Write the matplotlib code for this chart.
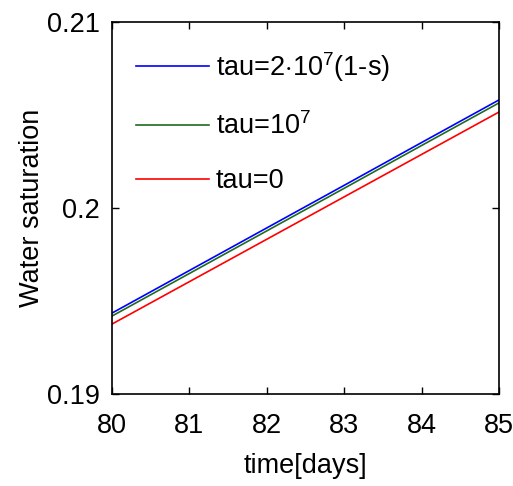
import matplotlib as mpl
import numpy as np
from matplotlib import pyplot as plt

mpl.rcParams["font.family"] = ["Liberation Sans", "DejaVu Sans"]
mpl.rcParams["mathtext.fontset"] = "custom"
mpl.rcParams["mathtext.rm"] = "Liberation Sans"
mpl.rcParams["mathtext.it"] = "Liberation Sans"

days = [80, 81, 82, 83, 84, 85]
sat_tau_var = [0.19435, 0.19664, 0.19893, 0.20122, 0.20352, 0.20581]
sat_tau_1e7 = [0.19419, 0.19648, 0.19877, 0.20106, 0.20336, 0.20565]
sat_tau_0 = [0.19376, 0.19604, 0.19832, 0.20060, 0.20288, 0.20516]

labels = [r"tau=2$\cdot$10$^7$(1-s)", r"tau=10$^7$", "tau=0"]
colors = ["#0000ff", "#1f6b1f", "#ff0000"]

fs = 19.5

fig = plt.figure(figsize=(5.13, 4.86), dpi=100)
ax = fig.add_axes([112 / 513, 1 - 394 / 486, 387 / 513, 372 / 486])

for vals, lab, c in zip([sat_tau_var, sat_tau_1e7, sat_tau_0], labels, colors):
    ax.plot(days, vals, color=c, lw=1.2, label=lab)

ax.set_xlim(80, 85)
ax.set_ylim(0.19, 0.21)
ax.set_xticks(days)
ax.set_yticks([0.19, 0.2, 0.21])
ax.set_yticklabels(["0.19", "0.2", "0.21"])
ax.tick_params(direction="in", top=True, right=True, labelsize=fs, length=5, width=1)
ax.tick_params(axis="x", pad=14)
ax.tick_params(axis="y", pad=9)
for s in ax.spines.values():
    s.set_linewidth(1.2)

ax.set_xlabel("time[days]", fontsize=fs, labelpad=10)
ax.set_ylabel("Water saturation", fontsize=fs, labelpad=1)

ax.legend(
    loc="upper left",
    bbox_to_anchor=(0.062, (394 - 50) / 372),
    frameon=False,
    fontsize=fs,
    handlelength=2.7,
    handletextpad=0.25,
    labelspacing=1.05,
    borderpad=0,
    borderaxespad=0,
)

fig.savefig("out.png", dpi=100)
